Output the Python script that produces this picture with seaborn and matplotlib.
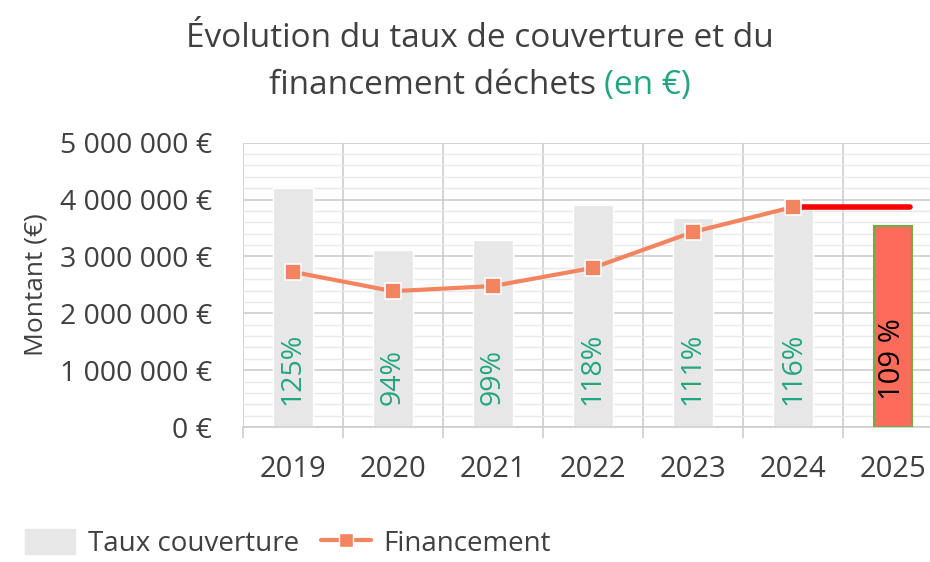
import numpy as np
import pandas as pd
import matplotlib
matplotlib.use("Agg")
import matplotlib.pyplot as plt
import seaborn as sns
from matplotlib.lines import Line2D
from matplotlib.patches import Patch
from matplotlib.ticker import MultipleLocator, FuncFormatter

# values
years = ["2019", "2020", "2021", "2022", "2023", "2024", "2025"]
taux_montant = [4210000, 3120000, 3290000, 3910000, 3680000, 3840000]
financement = [2730000, 2390000, 2480000, 2800000, 3430000, 3870000]
taux_labels = ["125%", "94%", "99%", "118%", "111%", "116%"]
prev_2025 = 3530000
prev_2025_label = "109 %"

sns.set_theme(style="white")
plt.rcParams["font.family"] = ["Open Sans", "DejaVu Sans"]

txt = "#404040"
green = "#22A680"

fig = plt.figure(figsize=(9.3, 5.62), dpi=100)
ax = fig.add_axes([0.261, 0.240, 0.753, 0.506])

df = pd.DataFrame({"annee": years[:6], "montant": taux_montant})
sns.barplot(data=df, x="annee", y="montant", order=years, color="#E7E7E7",
            saturation=1, width=0.4, ax=ax, zorder=2)

x = np.arange(len(financement))
ax.plot(x, financement, color="#F4845F", lw=3, marker="s", ms=11,
        mfc="#F4845F", mec="white", mew=1.2, zorder=4)

# 2025 forecast
ax.bar(6, prev_2025, width=0.37, color="#FF6B5B", edgecolor="#70AD47", lw=1.5, zorder=3)
ax.plot([5, 6.17], [financement[-1], financement[-1]], color="#FF0000", lw=4, zorder=3)
ax.text(6, 470000, prev_2025_label, rotation=90, ha="center", va="bottom",
        fontsize=21, color="black", zorder=5)

for i, lab in enumerate(taux_labels):
    ax.text(i, 390000, lab, rotation=90, ha="center", va="bottom",
            fontsize=20.5, color=green, zorder=5)

ax.set_xlim(-0.5, 6.5)
ax.set_ylim(0, 5000000)
ax.yaxis.set_major_locator(MultipleLocator(1000000))
ax.yaxis.set_minor_locator(MultipleLocator(200000))
ax.yaxis.set_major_formatter(FuncFormatter(
    lambda v, p: "0 €" if v == 0 else f"{int(v):,} €".replace(",", " ")))
ax.set_xticks(np.arange(7) - 0.5, minor=True)
ax.grid(True, which="major", axis="y", color="#CDCDCD", lw=1.2, zorder=0)
ax.grid(True, which="minor", axis="y", color="#E9E9E9", lw=1, zorder=0)
ax.grid(True, which="minor", axis="x", color="#CDCDCD", lw=1.2, zorder=0)
ax.set_axisbelow(True)
ax.tick_params(axis="x", which="major", length=0, pad=20, labelsize=21, labelcolor=txt)
ax.tick_params(axis="x", which="minor", length=8, color="#CDCDCD", width=1.2, bottom=True)
ax.tick_params(axis="y", which="both", length=0, pad=22, labelsize=20.5, labelcolor=txt)
for s in ["top", "right", "left"]:
    ax.spines[s].set_visible(False)
ax.spines["bottom"].set_color("#CDCDCD")
ax.spines["bottom"].set_linewidth(1.2)
ax.set_xlabel("")
ax.set_ylabel("Montant (€)", fontsize=19, color=txt, labelpad=8)

# title, "(en €)" in green
tsize = 24
fig.text(0.516, 0.932, "Évolution du taux de couverture et du", ha="center",
         va="center", fontsize=tsize, color=txt)
t1 = fig.text(0, 0.848, "financement déchets ", ha="left", va="center",
              fontsize=tsize, color=txt)
t2 = fig.text(0, 0.848, "(en €)", ha="left", va="center",
              fontsize=tsize, color=green)
fig.canvas.draw()
w1 = t1.get_window_extent().width / fig.bbox.width
w2 = t2.get_window_extent().width / fig.bbox.width
start = 0.516 - (w1 + w2) / 2
t1.set_x(start)
t2.set_x(start + w1)

handles = [Patch(color="#E7E7E7"),
           Line2D([], [], color="#F4845F", lw=3, marker="s", ms=10,
                  mfc="#F4845F", mec="white")]
fig.legend(handles, ["Taux couverture", "Financement"], loc="lower left",
           bbox_to_anchor=(0.0, -0.038), ncol=2, frameon=False, fontsize=20,
           labelcolor=txt, handlelength=1.8, handleheight=1.0, columnspacing=0.8,
           handletextpad=0.45)

fig.savefig("out.png", dpi=100)
